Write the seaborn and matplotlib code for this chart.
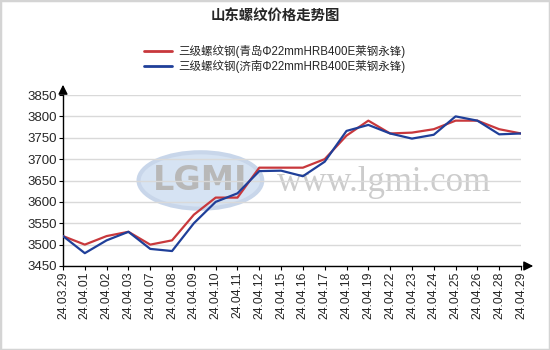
import matplotlib
matplotlib.use("Agg")
import matplotlib.pyplot as plt
import seaborn as sns
import pandas as pd
from matplotlib.patches import Ellipse, Rectangle
from matplotlib.lines import Line2D

dates = ["24.03.29", "24.04.01", "24.04.02", "24.04.03", "24.04.07", "24.04.08",
         "24.04.09", "24.04.10", "24.04.11", "24.04.12", "24.04.15", "24.04.16",
         "24.04.17", "24.04.18", "24.04.19", "24.04.22", "24.04.23", "24.04.24",
         "24.04.25", "24.04.26", "24.04.28", "24.04.29"]
qingdao = [3520, 3500, 3520, 3530, 3500, 3510, 3570, 3610, 3610, 3680, 3680,
           3680, 3700, 3755, 3790, 3760, 3762, 3770, 3790, 3790, 3770, 3760]
jinan = [3520, 3480, 3510, 3530, 3490, 3485, 3550, 3600, 3620, 3672, 3673,
         3660, 3694, 3766, 3780, 3760, 3748, 3757, 3800, 3790, 3758, 3760]
series_names = ["三级螺纹钢(青岛Φ22mmHRB400E莱钢永锋)", "三级螺纹钢(济南Φ22mmHRB400E莱钢永锋)"]
title = "山东螺纹价格走势图"
yticks = [3450, 3500, 3550, 3600, 3650, 3700, 3750, 3800, 3850]

sns.set_theme(style="white")
plt.rcParams['font.family'] = ['Liberation Sans', 'Noto Sans CJK SC', 'DejaVu Sans']

df = pd.DataFrame({
    "idx": list(range(len(dates))) * 2,
    "price": qingdao + jinan,
    "series": [series_names[0]] * len(dates) + [series_names[1]] * len(dates),
})

fig = plt.figure(figsize=(5.5, 3.5), dpi=100)
ax = fig.add_axes([63 / 550, 1 - 266 / 350, (521 - 63) / 550, (266 - 95) / 350])

# watermark
ax.add_patch(Ellipse((0.30, 0.50), 0.27, 0.33, transform=ax.transAxes,
                     facecolor="#d6e3f3", edgecolor="#c8d6ea", lw=3, zorder=0))
ax.text(0.30, 0.50, "LGMI", transform=ax.transAxes, ha="center", va="center",
        fontsize=24, fontweight="bold", color="#b8b8b8", zorder=0.5,
        family=["DejaVu Sans"])
ax.text(0.70, 0.49, "www.lgmi.com", transform=ax.transAxes, ha="center", va="center",
        fontsize=25, color="#cccccc", family=["Liberation Serif"], zorder=0.5)

palette = {series_names[0]: "#c8383c", series_names[1]: "#1f3f99"}
sns.lineplot(data=df, x="idx", y="price", hue="series", palette=palette,
             ax=ax, lw=1.6, legend=False, zorder=3)

ax.set_xlim(0, len(dates) - 1)
ax.set_ylim(3450, 3850)
ax.set_yticks(yticks)
ax.set_yticklabels([str(v) for v in yticks], fontsize=9.5)
ax.set_xticks(range(len(dates)))
ax.set_xticklabels(dates, rotation=90, fontsize=8.8)
ax.yaxis.grid(True, color="#d9d9d9", lw=1)
ax.set_axisbelow(True)
ax.set_xlabel("")
ax.set_ylabel("")
for s in ["top", "right"]:
    ax.spines[s].set_visible(False)
for s in ["left", "bottom"]:
    ax.spines[s].set_color("black")
    ax.spines[s].set_linewidth(1)
ax.tick_params(axis="both", which="both", length=3, width=0.8, color="black",
               direction="out", pad=1, left=True, bottom=True)

# axis arrows
ax.annotate("", xy=(536 / 550, 1 - 266 / 350), xycoords="figure fraction",
            xytext=(521 / 550, 1 - 266 / 350), textcoords="figure fraction",
            arrowprops=dict(arrowstyle="-|>", color="black", lw=1, mutation_scale=14))
ax.annotate("", xy=(63 / 550, 1 - 82 / 350), xycoords="figure fraction",
            xytext=(63 / 550, 1 - 95 / 350), textcoords="figure fraction",
            arrowprops=dict(arrowstyle="-|>", color="black", lw=1, mutation_scale=14))

fig.text(0.5, 1 - 17 / 350, title, ha="center", va="center", fontsize=10.4,
         fontweight="bold", family=["Noto Sans CJK SC"])

handles = [Line2D([0], [0], color=palette[n], lw=2) for n in series_names]
fig.legend(handles, series_names, loc="upper center", bbox_to_anchor=(0.5, 1 - 39 / 350),
           frameon=False, fontsize=8.3, handlelength=2.4, labelspacing=0.15,
           handletextpad=0.6, borderpad=0)

fig.patches.append(Rectangle((0, 0), 1, 1, transform=fig.transFigure, fill=False,
                             edgecolor="#d4d4d4", lw=2.5))

fig.savefig("out.png", dpi=100)
